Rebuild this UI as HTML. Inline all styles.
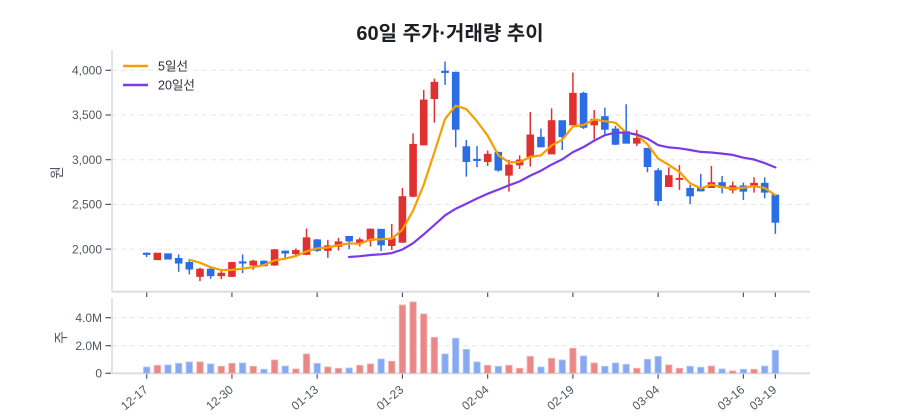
<!DOCTYPE html>
<html><head><meta charset="utf-8">
<style>
html,body{margin:0;padding:0;background:#fff;}
svg{display:block;}
text{font-family:"Liberation Sans","Noto Sans CJK KR",sans-serif;}
</style></head>
<body>
<svg id="c" width="900" height="420" viewBox="0 0 900 420" xmlns="http://www.w3.org/2000/svg">
<rect width="900" height="420" fill="#fff"/>
<text x="450" y="40" text-anchor="middle" font-size="20" font-weight="bold" fill="#1c1f26" style="font-family:'Liberation Sans','Noto Sans CJK KR',sans-serif">60일 주가·거래량 추이</text>
<g id="grid" stroke="#e3e6eb" stroke-width="1" stroke-dasharray="5,4"></g>
<g id="axes"></g>
<g id="vol"></g>
<g id="cand"></g>
<g id="ma"></g>
<g id="labels" font-size="12" fill="#4f5563">
<text x="102" y="74.5" text-anchor="end">4,000</text>
<text x="102" y="119.2" text-anchor="end">3,500</text>
<text x="102" y="163.9" text-anchor="end">3,000</text>
<text x="102" y="208.6" text-anchor="end">2,500</text>
<text x="102" y="253.3" text-anchor="end">2,000</text>
<text x="102" y="321.9" text-anchor="end">4.0M</text>
<text x="102" y="349.9" text-anchor="end">2.0M</text>
<text x="102" y="377.5" text-anchor="end">0</text>
</g>
<text transform="translate(57,172.5) rotate(-90)" text-anchor="middle" dominant-baseline="central" font-size="14" fill="#4f5563">원</text>
<text transform="translate(61,337.5) rotate(-90)" text-anchor="middle" dominant-baseline="central" font-size="14" fill="#4f5563">주</text>
<g id="xl" font-size="12" fill="#4f5563"></g>
<g id="legend">
<line x1="123" y1="66" x2="148" y2="66" stroke="#f59f00" stroke-width="2.5"/>
<text x="158" y="70.5" font-size="12.5" fill="#2a2e36">5일선</text>
<line x1="123" y1="85" x2="148" y2="85" stroke="#7b3aea" stroke-width="2.5"/>
<text x="158" y="89.5" font-size="12.5" fill="#2a2e36">20일선</text>
</g>
</svg>
<script>
(function(){
var NS="http://www.w3.org/2000/svg";
function el(tag,attrs,parent){var e=document.createElementNS(NS,tag);for(var k in attrs)e.setAttribute(k,attrs[k]);parent.appendChild(e);return e;}
var D=[
[1955,1963,1910,1940],[1881,1958,1878,1955],[1948,1950,1886,1888],[1896,1940,1746,1843],[1851,1888,1717,1776],
[1694,1791,1642,1776],[1776,1791,1668,1702],[1702,1754,1664,1731],[1694,1858,1687,1851],[1858,1940,1731,1843],
[1821,1881,1769,1866],[1866,1873,1806,1813],[1821,2000,1813,1993],[1978,1985,1881,1955],[1948,2007,1910,1985],
[1940,2231,1933,2127],[2104,2112,1970,1985],[1985,2104,1903,2037],[2030,2127,1985,2082],[2142,2142,2000,2090],
[2075,2127,2030,2104],[2097,2231,2030,2224],[2222,2222,1978,2047],[2039,2281,1991,2121],[2076,2684,2070,2587],
[2590,3295,2580,3172],[3165,3780,3160,3668],[3683,3907,3415,3866],[3990,4097,3836,3975],[3978,3985,3139,3340],
[3146,3221,2811,2979],[3005,3154,2915,2990],[2979,3102,2930,3061],[3083,3090,2867,2882],[2826,2997,2643,2941],
[2941,3049,2896,2997],[3034,3534,2923,3277],[3251,3348,3143,3143],[3064,3575,3064,3437],[3437,3437,3109,3258],
[3389,3974,3389,3743],[3743,3761,3344,3362],[3389,3556,3228,3452],[3482,3582,3277,3340],[3344,3377,3165,3172],
[3314,3620,3184,3184],[3184,3333,3154,3240],[3128,3128,2859,2923],[2878,2904,2486,2542],[2699,2915,2699,2822],
[2781,2941,2662,2792],[2680,2718,2505,2595],[2680,2841,2650,2650],[2688,2930,2688,2744],[2744,2818,2624,2688],
[2662,2755,2624,2707],[2707,2744,2550,2647],[2699,2803,2632,2737],[2737,2803,2568,2636],[2606,2606,2170,2300]];
var V=[.45,.57,.6,.71,.81,.81,.67,.5,.71,.74,.5,.29,.95,.52,.31,1.38,.71,.45,.36,.38,.57,.67,1.02,.86,4.88,5.1,4.24,2.57,1.38,2.5,1.71,.81,.57,.5,.57,.36,1.21,.45,1.07,.95,1.79,1.24,.74,.5,.74,.64,.36,1.0,1.21,.6,.36,.5,.43,.52,.31,.17,.29,.29,.52,1.64];
function X(i){return 146.7+10.655*i;}
function PY(p){return 70.3+(4000-p)*0.0894;}
function VY(v){return 373.3-v*14;}
var grid=document.getElementById('grid');
[4000,3500,3000,2500,2000].forEach(function(p){var y=PY(p);el('line',{x1:112,x2:810,y1:y,y2:y},grid);});
[317.7,345.7].forEach(function(y){el('line',{x1:112,x2:810,y1:y,y2:y},grid);});
var ax=document.getElementById('axes');
el('line',{x1:112,x2:112,y1:50,y2:291.7,stroke:'#cfd5de','stroke-width':1.3},ax);
el('line',{x1:112,x2:112,y1:298,y2:373.3,stroke:'#cfd5de','stroke-width':1.3},ax);
el('line',{x1:112,x2:810,y1:291.7,y2:291.7,stroke:'#d7dbe2','stroke-width':1.8},ax);
el('line',{x1:112,x2:810,y1:373.3,y2:373.3,stroke:'#d7dbe2','stroke-width':1.8},ax);
[70.3,115,159.7,204.4,249.1,317.7,345.7,373.3].forEach(function(y){el('line',{x1:105.5,x2:111,y1:y,y2:y,stroke:'#4f5563','stroke-width':1.2},ax);});
var ticks=[[0,'12-17'],[8,'12-30'],[16,'01-13'],[24,'01-23'],[32,'02-04'],[40,'02-19'],[48,'03-04'],[56,'03-16'],[59,'03-19']];
var xl=document.getElementById('xl');
ticks.forEach(function(t){var x=X(t[0]);
el('line',{x1:x,x2:x,y1:292.6,y2:297,stroke:'#4f5563','stroke-width':1.2},ax);
el('line',{x1:x,x2:x,y1:374.2,y2:378.7,stroke:'#4f5563','stroke-width':1.2},ax);
var tx=el('text',{transform:'translate('+(x+2)+',391) rotate(-40)','text-anchor':'end'},xl);tx.textContent=t[1];});
var vg=document.getElementById('vol'),cg=document.getElementById('cand');
for(var i=0;i<60;i++){var d=D[i],up=d[3]>=d[0],x=X(i);
var vc=up?'#ea8888':'#88a9f1',vs=up?'#f3b3b3':'#b3c9f6';
var vy=VY(V[i]);el('rect',{x:x-3.2,y:vy,width:6.4,height:373.3-vy,fill:vc,stroke:vs,'stroke-width':0.8},vg);
var col=up?'#e03131':'#2b6de6';
el('line',{x1:x,x2:x,y1:PY(d[1]),y2:PY(d[2]),stroke:col,'stroke-width':1.5},cg);
var t=PY(Math.max(d[0],d[3])),b=PY(Math.min(d[0],d[3]));if(b-t<1.2){b=t+1.2;}
el('rect',{x:x-3.4,y:t,width:6.8,height:b-t,fill:col,stroke:col,'stroke-width':0.8},cg);}
var mg=document.getElementById('ma');
function ma(n,color){var pts=[];for(var i=n-1;i<60;i++){var s=0;for(var j=i-n+1;j<=i;j++)s+=D[j][3];pts.push(X(i).toFixed(1)+','+PY(s/n).toFixed(1));}
el('polyline',{points:pts.join(' '),fill:'none',stroke:color,'stroke-width':2.2,'stroke-linejoin':'round','stroke-linecap':'round'},mg);}
ma(5,'#f59f00');ma(20,'#7b3aea');
})();
</script>
</body></html>
